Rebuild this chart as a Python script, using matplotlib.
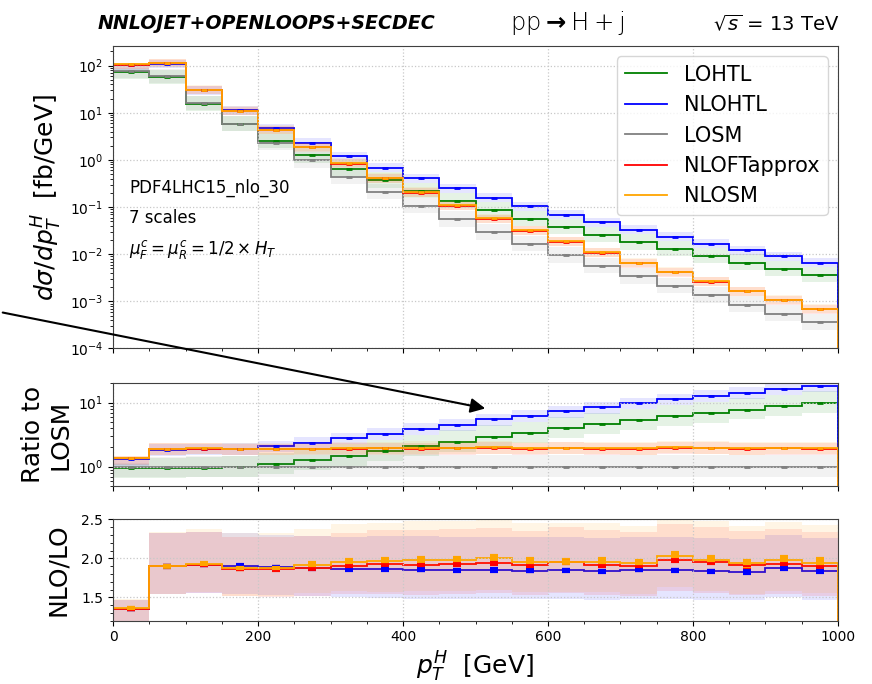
import numpy as np
import matplotlib
matplotlib.use('Agg')
import matplotlib.pyplot as plt
from matplotlib.patches import FancyArrowPatch
from matplotlib.ticker import MultipleLocator, LogLocator, NullFormatter

# thin upright font for the process label only (custom math fontset)
plt.rcParams['mathtext.rm'] = 'DejaVu Sans:weight=ultralight'
plt.rcParams['mathtext.bf'] = 'DejaVu Sans:bold'

# pT bins [GeV]
edges = np.arange(0, 1050, 50)
centres = 0.5 * (edges[1:] + edges[:-1])

# LO full SM [fb/GeV]
losm = [78, 60, 16, 5.9, 2.33, 0.98, 0.44, 0.21, 0.105, 0.055,
        0.029, 0.0165, 0.0095, 0.0056, 0.0034, 0.0021, 0.00134, 0.00085, 0.00055, 0.00036]
# LO HTL / LO SM
htl_over_sm = [0.96, 0.96, 0.97, 1.0, 1.1, 1.27, 1.48, 1.75, 2.07, 2.45,
               2.95, 3.38, 3.95, 4.6, 5.27, 6.1, 6.85, 7.8, 8.8, 10.0]
# NLO/LO k-factors
k_nlohtl = [1.35, 1.90, 1.92, 1.907, 1.886, 1.873, 1.864, 1.86, 1.856, 1.847,
            1.85, 1.843, 1.847, 1.835, 1.852, 1.847, 1.835, 1.826, 1.873, 1.835]
k_nloft = [1.35, 1.90, 1.92, 1.865, 1.86, 1.873, 1.90, 1.924, 1.92, 1.928,
           1.94, 1.91, 1.95, 1.92, 1.90, 1.98, 1.95, 1.91, 1.93, 1.90]
k_nlosm = [1.36, 1.90, 1.93, 1.873, 1.873, 1.915, 1.953, 1.966, 1.98, 1.98,
           2.0, 1.958, 1.958, 1.958, 1.936, 2.034, 1.983, 1.936, 1.975, 1.945]
# MC errors on the k-factors
err_nlohtl = [0.005, 0.005, 0.005, 0.005, 0.006, 0.006, 0.008, 0.008, 0.008, 0.008,
              0.008, 0.008, 0.008, 0.008, 0.008, 0.008, 0.008, 0.01, 0.01, 0.01]
err_nloft = [0.006, 0.006, 0.006, 0.008, 0.008, 0.01, 0.012, 0.012, 0.012, 0.012,
             0.012, 0.012, 0.012, 0.015, 0.015, 0.015, 0.015, 0.015, 0.015, 0.015]
err_nlosm = [0.006, 0.006, 0.008, 0.01, 0.01, 0.02, 0.025, 0.025, 0.025, 0.03,
             0.03, 0.03, 0.02, 0.035, 0.03, 0.04, 0.03, 0.035, 0.04, 0.04]
# 7-point scale envelopes (relative)
lo_up = [1.15, 1.4, 1.45, 1.45, 1.5, 1.5, 1.5, 1.5, 1.5, 1.5,
         1.5, 1.5, 1.5, 1.5, 1.5, 1.5, 1.5, 1.5, 1.5, 1.5]
lo_dn = [0.7, 0.7, 0.7, 0.7, 0.7, 0.7, 0.7, 0.7, 0.7, 0.7,
         0.7, 0.7, 0.7, 0.7, 0.7, 0.7, 0.7, 0.7, 0.7, 0.7]
nlo_up = [1.09, 1.22, 1.22, 1.22, 1.22, 1.22, 1.22, 1.23, 1.23, 1.23,
          1.23, 1.23, 1.23, 1.23, 1.23, 1.23, 1.23, 1.23, 1.23, 1.23]
nlo_dn = [0.8, 0.81, 0.81, 0.81, 0.81, 0.81, 0.81, 0.8, 0.8, 0.8,
          0.8, 0.8, 0.8, 0.8, 0.8, 0.8, 0.8, 0.8, 0.8, 0.8]
# slightly wider envelopes for the NLO SM curves
nlosm_up = [1.09, 1.23, 1.23, 1.24, 1.24, 1.24, 1.25, 1.25, 1.25, 1.25,
            1.25, 1.25, 1.25, 1.25, 1.25, 1.25, 1.25, 1.25, 1.25, 1.25]

losm = np.array(losm)
lohtl = losm * np.array(htl_over_sm)
nlohtl = lohtl * np.array(k_nlohtl)
nloft = losm * np.array(k_nloft)
nlosm = losm * np.array(k_nlosm)

series = [
    ('LOHTL', 'green', lohtl, lo_up, lo_dn, np.zeros(20)),
    ('NLOHTL', 'blue', nlohtl, nlo_up, nlo_dn, np.array(err_nlohtl) / k_nlohtl),
    ('LOSM', 'gray', losm, lo_up, lo_dn, np.zeros(20)),
    ('NLOFTapprox', 'red', nloft, nlo_up, nlo_dn, np.array(err_nloft) / k_nloft),
    ('NLOSM', 'orange', nlosm, nlosm_up, nlo_dn, np.array(err_nlosm) / k_nlosm),
]

fig = plt.figure(figsize=(8.72, 6.84), dpi=100)
ax1 = fig.add_axes([0.1296, 0.4905, 0.8314, 0.4422])
ax2 = fig.add_axes([0.1296, 0.2895, 0.8314, 0.1501])
ax3 = fig.add_axes([0.1296, 0.0925, 0.8314, 0.1483])


def draw(ax, vals, col, up, dn, rel, label=None, bottom=False):
    vals = np.asarray(vals)
    ax.stairs(vals * np.array(up), edges, baseline=vals * np.array(dn),
              fill=True, color=col, alpha=0.1, lw=0)
    ax.stairs(vals, edges, color=col, lw=1.3, label=label)
    if bottom:
        ax.errorbar(centres, vals, yerr=vals * rel, fmt='_', color=col, ms=6,
                    mew=3, elinewidth=1, capsize=3, capthick=1)
    else:
        ax.errorbar(centres, vals, yerr=vals * rel, fmt='_', color=col, ms=5,
                    mew=2, elinewidth=1)


for name, col, vals, up, dn, rel in series:
    draw(ax1, vals, col, up, dn, rel, label=name)
    draw(ax2, vals / losm, col, up, dn, rel)

draw(ax3, k_nlohtl, 'blue', nlo_up, nlo_dn, np.array(err_nlohtl) / k_nlohtl, bottom=True)
draw(ax3, k_nloft, 'red', nlo_up, nlo_dn, np.array(err_nloft) / k_nloft, bottom=True)
draw(ax3, k_nlosm, 'orange', nlosm_up, nlo_dn, np.array(err_nlosm) / k_nlosm, bottom=True)

ax1.set_yscale('log')
ax1.set_ylim(1e-4, 260)
ax2.set_yscale('log')
ax2.set_ylim(0.5, 20)
ax3.set_ylim(1.2, 2.5)
ax3.yaxis.set_major_locator(MultipleLocator(0.5))
ax3.yaxis.set_minor_locator(MultipleLocator(0.1))

for ax in (ax1, ax2, ax3):
    ax.set_xlim(0, 1000)
    ax.xaxis.set_major_locator(MultipleLocator(200))
    ax.xaxis.set_minor_locator(MultipleLocator(50))
    ax.grid(True, which='major', ls=':', color='#c8c8c8', lw=0.9)
    ax.tick_params(labelsize=10)
    for sp in ax.spines.values():
        sp.set_color('#404040')
for ax in (ax1, ax2):
    ax.tick_params(labelbottom=False)
    ax.yaxis.set_minor_locator(LogLocator(base=10, subs=np.arange(2, 10)))
    ax.yaxis.set_minor_formatter(NullFormatter())

ax1.set_ylabel(r'$d\sigma/dp_T^H$  [fb/GeV]', fontsize=18)
ax2.set_ylabel('Ratio to\nLOSM', fontsize=18)
ax3.set_ylabel('NLO/LO', fontsize=18, labelpad=8)
ax3.set_xlabel(r'$p_T^H$  [GeV]', fontsize=18)

ax1.text(0.022, 0.531, 'PDF4LHC15_nlo_30', transform=ax1.transAxes, fontsize=12, va='center')
ax1.text(0.022, 0.430, '7 scales', transform=ax1.transAxes, fontsize=12, va='center')
ax1.text(0.022, 0.328, r'$\mu_F^c = \mu_R^c = 1/2 \times H_T$', transform=ax1.transAxes,
         fontsize=12, va='center')

ax1.legend(loc='upper right', fontsize=15, framealpha=0.8)

fig.text(0.112, 0.965, 'NNLOJET+OPENLOOPS+SECDEC', fontsize=13.7, fontweight='bold',
         fontstyle='italic', va='center', ha='left')
fig.text(0.651, 0.967, r'$\mathrm{pp}\mathbf{\rightarrow}\mathrm{H+j}$', fontsize=17.5,
         math_fontfamily='custom', va='center', ha='center')
fig.text(0.963, 0.965, r'$\sqrt{s}$ = 13 TeV', fontsize=14, va='center', ha='right')

arrow = FancyArrowPatch((0.0, 1 - 312 / 684), (488 / 872, 1 - 409 / 684),
                        transform=fig.transFigure, arrowstyle='-|>',
                        mutation_scale=22, lw=1.5, color='black')
fig.add_artist(arrow)

fig.savefig('out.png', dpi=100)
